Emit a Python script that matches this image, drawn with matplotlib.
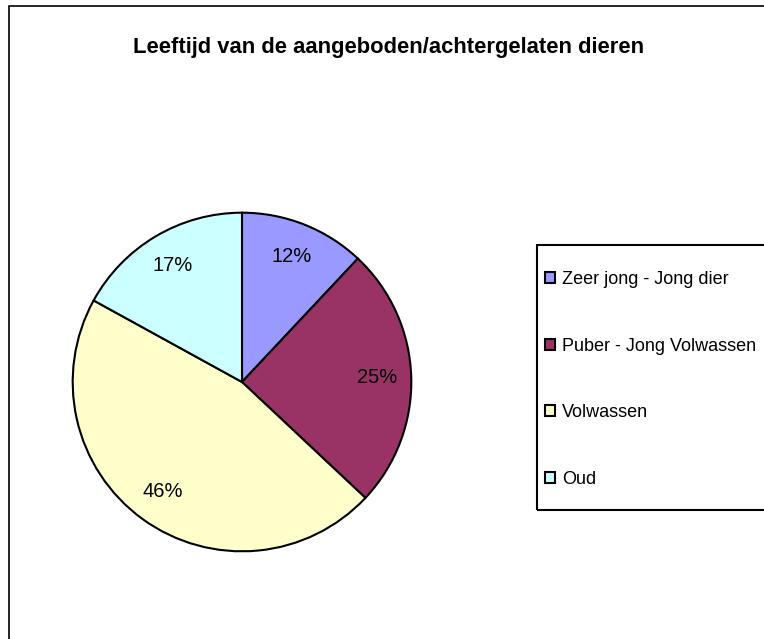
import matplotlib
matplotlib.use("Agg")
import matplotlib.pyplot as plt
from matplotlib.patches import Rectangle, Patch

categories = ["Zeer jong - Jong dier", "Puber - Jong Volwassen", "Volwassen", "Oud"]
values = [12, 25, 46, 17]
colors = ["#9999FF", "#993366", "#FFFFCC", "#CCFFFF"]
title = "Leeftijd van de aangeboden/achtergelaten dieren"

plt.rcParams['font.family'] = ['Liberation Sans', 'DejaVu Sans']

W, H = 764, 639
fig = plt.figure(figsize=(W / 100, H / 100), dpi=100)

# outer border (clipped on the right and bottom)
fig.patches.append(Rectangle((9 / W, -0.05), 1.2, 1 - 6 / H + 0.05, transform=fig.transFigure,
                             fill=False, edgecolor='black', linewidth=1.2))

cx, cy, r = 242, 382, 171
ax = fig.add_axes([(cx - r) / W, (H - cy - r) / H, 2 * r / W, 2 * r / H])
wedges, texts, autotexts = ax.pie(values, colors=colors, startangle=90, counterclock=False,
                                  autopct='%1.0f%%', pctdistance=0.8,
                                  wedgeprops=dict(edgecolor='black', linewidth=1.5),
                                  textprops=dict(fontsize=14.5, color='black'))
ax.set_xlim(-1.01, 1.01)
ax.set_ylim(-1.01, 1.01)
ax.set_aspect('equal')
ax.axis('off')

fig.text(389 / W, 1 - 47 / H, title, ha='center', va='center', fontsize=15.8, fontweight='bold')

# legend frame
fig.patches.append(Rectangle((537 / W, 1 - 510 / H), 0.5, (510 - 245) / H, transform=fig.transFigure,
                             fill=False, edgecolor='black', linewidth=1.5))
handles = [Patch(facecolor=c, edgecolor='black', linewidth=1.5) for c in colors]
leg = fig.legend(handles, categories, loc='upper left',
                 bbox_to_anchor=(545 / W, 1 - 271 / H), bbox_transform=fig.transFigure,
                 frameon=False, fontsize=13, handlelength=0.55, handleheight=0.55,
                 handletextpad=0.4, labelspacing=2.75, borderpad=0, borderaxespad=0)

fig.savefig("out.png", dpi=100, facecolor='white')
